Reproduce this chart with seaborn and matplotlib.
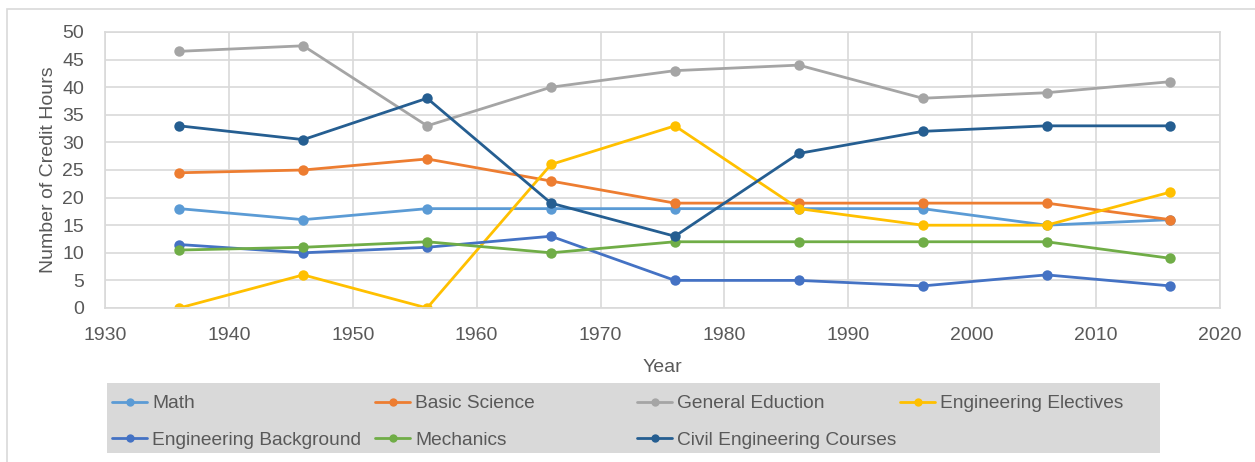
import numpy as np
import pandas as pd
import seaborn as sns
import matplotlib.pyplot as plt
from matplotlib.patches import Rectangle

# data
years = [1936, 1946, 1956, 1966, 1976, 1986, 1996, 2006, 2016]
math = [18, 16, 18, 18, 18, 18, 18, 15, 16]
basic_science = [24.5, 25, 27, 23, 19, 19, 19, 19, 16]
general_education = [46.5, 47.5, 33, 40, 43, 44, 38, 39, 41]
eng_electives = [0, 6, 0, 26, 33, 18, 15, 15, 21]
eng_background = [11.5, 10, 11, 13, 5, 5, 4, 6, 4]
mechanics = [10.5, 11, 12, 10, 12, 12, 12, 12, 9]
civil_courses = [33, 30.5, 38, 19, 13, 28, 32, 33, 33]

series_names = ["Math", "Basic Science", "General Eduction", "Engineering Electives",
                "Engineering Background", "Mechanics", "Civil Engineering Courses"]
series_values = [math, basic_science, general_education, eng_electives,
                 eng_background, mechanics, civil_courses]
colors = ["#5B9BD5", "#ED7D31", "#A5A5A5", "#FFC000", "#4472C4", "#70AD47", "#255E91"]

x_ticks = list(range(1930, 2021, 10))
y_ticks = list(range(0, 51, 5))

rows = []
for name, vals in zip(series_names, series_values):
    for yr, v in zip(years, vals):
        rows.append({"Year": yr, "Hours": v, "Course": name})
df = pd.DataFrame(rows)

sns.set_style("white")
plt.rcParams["font.family"] = ["Liberation Sans", "DejaVu Sans"]
text_color = "#595959"
grid_color = "#D9D9D9"
W, H = 1255, 462
fs = 14

fig = plt.figure(figsize=(12.55, 4.62), dpi=100)
ax = fig.add_axes([105 / W, 1 - 308 / H, 1115 / W, 276 / H])

sns.lineplot(data=df, x="Year", y="Hours", hue="Course", hue_order=series_names,
             palette=colors, marker="o", markersize=7.5, markeredgewidth=0,
             linewidth=2, ax=ax, legend=True)

ax.set_xlim(1930, 2020)
ax.set_ylim(0, 50)
ax.set_xticks(x_ticks)
ax.set_yticks(y_ticks)
ax.grid(True, color=grid_color, linewidth=1.2)
ax.set_axisbelow(True)
for sp in ax.spines.values():
    sp.set_color(grid_color)
    sp.set_linewidth(1.2)
ax.tick_params(axis="x", length=0, labelsize=fs, colors=text_color, pad=13.5)
ax.tick_params(axis="y", length=0, labelsize=fs, colors=text_color, pad=15)
ax.set_xlabel("Year", fontsize=fs, color=text_color, labelpad=11)
ax.set_ylabel("Number of Credit Hours", fontsize=fs, color=text_color, labelpad=4)

handles, labels = ax.get_legend_handles_labels()
ax.get_legend().remove()
for h in handles:
    h.set_markersize(6)

# grey legend box below the plot
fig.patches.append(Rectangle((107 / W, 1 - 453 / H), 1053 / W, 70 / H,
                             transform=fig.transFigure, facecolor="#D9D9D9",
                             edgecolor="none", zorder=0))

# legend in equal-width columns, filled row by row
col_x = [112, 375, 637, 900]
for c in range(4):
    idx = [i for i in range(len(handles)) if i % 4 == c]
    leg = fig.legend([handles[i] for i in idx], [labels[i] for i in idx],
                     loc="upper left", bbox_to_anchor=(col_x[c] / W, 1 - 395 / H),
                     frameon=False, fontsize=fs - 0.2, handlelength=1.85,
                     handletextpad=0.25, borderaxespad=0, borderpad=0,
                     labelspacing=1.0)
    for t in leg.get_texts():
        t.set_color(text_color)

# outer chart border
fig.patches.append(Rectangle((7 / W, -0.1), 1.2, 1 - 9 / H + 0.1,
                             transform=fig.transFigure, fill=False,
                             edgecolor=grid_color, linewidth=1.2))

fig.savefig("out.png", dpi=100)
